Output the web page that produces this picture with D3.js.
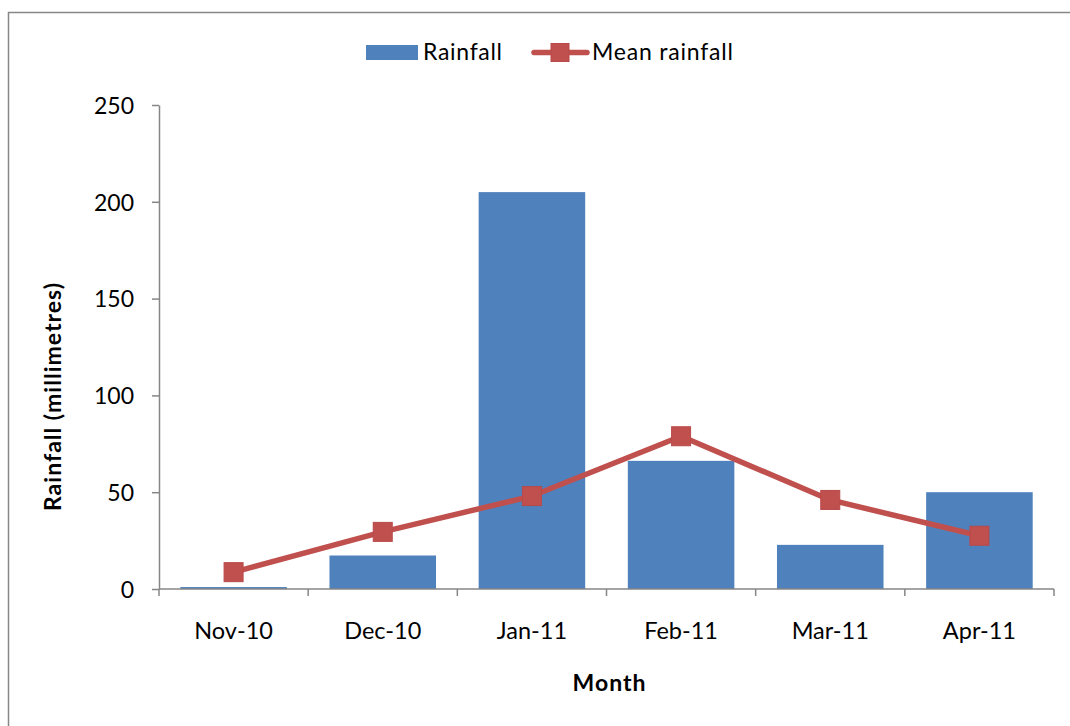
<!DOCTYPE html>
<html>
<head>
<meta charset="utf-8">
<script src="https://cdn.jsdelivr.net/npm/d3@7"></script>
<style>
  html, body { margin: 0; padding: 0; background: #fff; }
  svg { display: block; }
  text { font-family: Lato, "Open Sans", sans-serif; fill: #000; }
</style>
</head>
<body>
<svg id="chart" width="1070" height="726"></svg>
<script>
// Monthly rainfall, Nov 2010 – Apr 2011
const months = ["Nov-10", "Dec-10", "Jan-11", "Feb-11", "Mar-11", "Apr-11"];
const rainfall = [1, 17.3, 205, 66.2, 22.8, 50];
const meanRainfall = [8.7, 29.5, 48, 78.9, 46, 27.5];
const yTicks = [0, 50, 100, 150, 200, 250];

const barColor = "#4F81BD";
const lineColor = "#C0504D";
const axisColor = "#868686";

const svg = d3.select("#chart");

// chart frame
svg.append("rect")
  .attr("x", 8.5).attr("y", 12.5)
  .attr("width", 1100).attr("height", 800)
  .attr("fill", "none").attr("stroke", "#878787").attr("stroke-width", 1.5);

const plot = { left: 159, right: 1054, top: 105, bottom: 589 };

const x = d3.scaleBand().domain(months).range([plot.left, plot.right]).padding(0);
const y = d3.scaleLinear().domain([0, 250]).range([plot.bottom, plot.top]);

const barW = x.bandwidth() / 1.4;   // 40% gap between bars
const cx = d => x(d) + x.bandwidth() / 2;

// bars
svg.append("g").selectAll("rect")
  .data(months.map((m, i) => ({ m, v: rainfall[i] })))
  .join("rect")
  .attr("x", d => cx(d.m) - barW / 2)
  .attr("y", d => y(d.v))
  .attr("width", barW)
  .attr("height", d => y(0) - y(d.v))
  .attr("fill", barColor);

// y axis
const yAxis = svg.append("g")
  .attr("transform", `translate(${plot.left},0)`)
  .call(d3.axisLeft(y).tickValues(yTicks).tickSize(7).tickPadding(18).tickSizeOuter(0));
yAxis.select(".domain").attr("stroke", axisColor).attr("stroke-width", 1.5);
yAxis.selectAll(".tick line").attr("stroke", axisColor).attr("stroke-width", 1.5);
yAxis.selectAll(".tick text")
  .attr("font-size", 23).attr("font-family", "Lato, sans-serif").attr("fill", "#000")
  .attr("dy", "0.36em");

// x axis: ticks sit on the category boundaries
const xAxisG = svg.append("g").attr("transform", `translate(0,${plot.bottom})`);
xAxisG.append("line")
  .attr("x1", plot.left).attr("x2", plot.right)
  .attr("stroke", axisColor).attr("stroke-width", 1.5);
const bounds = months.map(m => x(m)).concat([x(months[months.length - 1]) + x.bandwidth()]);
xAxisG.selectAll("line.tk").data(bounds).join("line")
  .attr("class", "tk")
  .attr("x1", d => d).attr("x2", d => d)
  .attr("y1", 0).attr("y2", 7)
  .attr("stroke", axisColor).attr("stroke-width", 1.5);
xAxisG.selectAll("text").data(months).join("text")
  .attr("x", d => cx(d)).attr("y", 50)
  .attr("text-anchor", "middle")
  .attr("font-size", 23.5)
  .text(d => d);

// mean rainfall line with square markers
const pts = months.map((m, i) => [cx(m), y(meanRainfall[i])]);
svg.append("path")
  .attr("d", d3.line()(pts))
  .attr("fill", "none").attr("stroke", lineColor)
  .attr("stroke-width", 5.5).attr("stroke-linejoin", "round");
const mk = 19;
svg.append("g").selectAll("rect")
  .data(pts).join("rect")
  .attr("x", d => d[0] - mk / 2).attr("y", d => d[1] - mk / 2)
  .attr("width", mk).attr("height", mk)
  .attr("fill", lineColor).attr("stroke", "#B9494A").attr("stroke-width", 1);

// axis titles
svg.append("text")
  .attr("x", 609).attr("y", 691)
  .attr("text-anchor", "middle").attr("font-size", 23).attr("font-weight", "bold")
  .attr("textLength", 73).attr("lengthAdjust", "spacing")
  .text("Month");
svg.append("text")
  .attr("transform", "translate(61,397) rotate(-90)")
  .attr("text-anchor", "middle").attr("font-size", 23).attr("font-weight", "bold")
  .attr("textLength", 228).attr("lengthAdjust", "spacing")
  .text("Rainfall (millimetres)");

// legend
const lg = svg.append("g");
lg.append("rect").attr("x", 366).attr("y", 45).attr("width", 52).attr("height", 15).attr("fill", barColor);
lg.append("text").attr("x", 423).attr("y", 60).attr("font-size", 23)
  .attr("textLength", 79).attr("lengthAdjust", "spacing").text("Rainfall");
lg.append("line").attr("x1", 534).attr("x2", 587).attr("y1", 52.5).attr("y2", 52.5)
  .attr("stroke", lineColor).attr("stroke-width", 5.5).attr("stroke-linecap", "round");
lg.append("rect").attr("x", 551).attr("y", 43.5).attr("width", 18).attr("height", 18)
  .attr("fill", lineColor).attr("stroke", "#B9494A").attr("stroke-width", 1);
lg.append("text").attr("x", 592).attr("y", 60).attr("font-size", 23)
  .attr("textLength", 141).attr("lengthAdjust", "spacing").text("Mean rainfall");
</script>
</body>
</html>
